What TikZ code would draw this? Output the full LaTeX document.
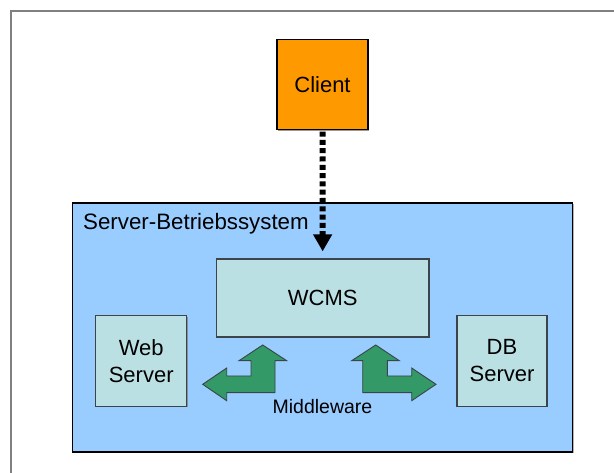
\documentclass[tikz,border=0pt]{standalone}
\usepackage{fontspec}
\setmainfont{Liberation Sans}
\usetikzlibrary{arrows.meta,shadows}
\definecolor{clientorange}{HTML}{FF9900}
\definecolor{osblue}{HTML}{99CCFF}
\definecolor{boxteal}{HTML}{BBE0E3}
\definecolor{mwgreen}{HTML}{339966}
\definecolor{edgegray}{HTML}{3A4449}
\begin{document}
\begin{tikzpicture}[x=1pt,y=-1pt,
    box/.style={draw=edgegray,line width=1.2pt,fill=boxteal,align=center,
      font=\fontsize{22}{27}\selectfont,inner sep=0pt,
      drop shadow={shadow xshift=1.2pt,shadow yshift=-1.2pt,fill=gray,opacity=.8}},
    mwarrow/.style={draw=edgegray,line width=.9pt,fill=mwgreen,line join=miter}]
  \useasboundingbox (0,0) rectangle (614,473);
  \draw[gray,line width=1.5pt] (11,473) -- (11,11) -- (614,11);
  \node (os) at (322.5,327.5) [draw=black,line width=1.2pt,fill=osblue,
    minimum width=500pt,minimum height=249pt,
    drop shadow={shadow xshift=1.2pt,shadow yshift=-1.2pt,fill=gray,opacity=.6}] {};
  \node (oslabel) at (83,229.3) [anchor=base west,inner sep=0pt,
    font=\fontsize{22.3}{27}\selectfont] {Server-Betriebssystem};
  \node (client) at (322.5,84.5) [box,fill=clientorange,draw=black,
    minimum width=91pt,minimum height=90pt] {Client};
  \node (wcms) at (322.7,298) [box,minimum width=212.5pt,minimum height=78pt] {WCMS};
  \node (web) at (141.2,361) [box,minimum width=91pt,minimum height=90.5pt] {Web\\Server};
  \node (db) at (502,361) [box,minimum width=90pt,minimum height=90.5pt] {DB\\Server};
  \draw[line width=6pt,dash pattern=on 5pt off 3.3pt,
    -{Triangle[width=18pt,length=17pt]},shorten >=7pt,shorten <=1.5pt] (client) -- (wcms);
  % middleware arrows
  \draw[mwarrow] (262.7,345) -- (286.7,360.7) -- (275,360.7) -- (275,392.7)
    -- (226.7,392.7) -- (226.7,400.7) -- (202.7,384.3) -- (226.7,368)
    -- (226.7,376) -- (251,376) -- (251,360.7) -- (239,360.7) -- cycle;
  \draw[mwarrow] (375.7,345) -- (399.3,360.7) -- (387.3,360.7) -- (387.3,376)
    -- (411.7,376) -- (411.7,368) -- (436,384.3) -- (411.7,400.7)
    -- (411.7,392.7) -- (362.7,392.7) -- (362.7,360.7) -- (351.7,360.7) -- cycle;
  \node (mw) at (322.5,407) [font=\fontsize{19.5}{24}\selectfont] {Middleware};
\end{tikzpicture}
\end{document}
